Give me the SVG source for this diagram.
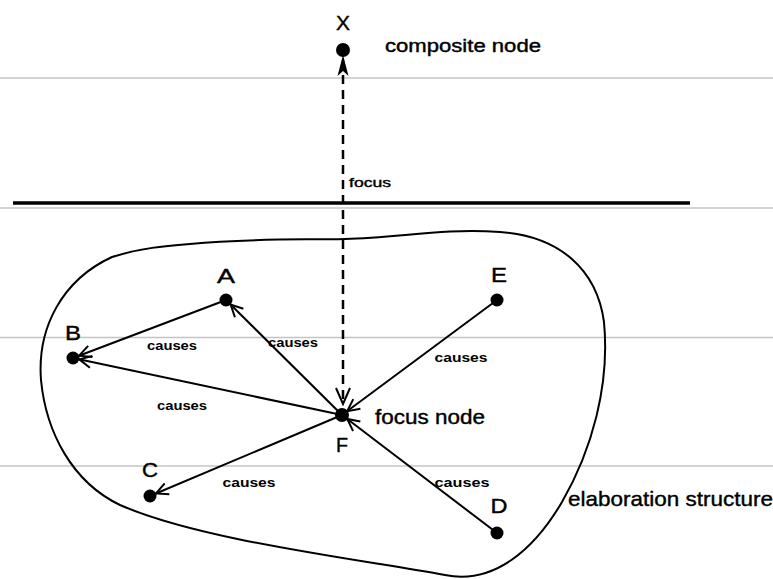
<svg xmlns="http://www.w3.org/2000/svg" width="773" height="579" viewBox="0 0 773 579">
  <style>
    .rule { stroke: #c4c4c4; stroke-width: 1.5; }
    .edge { stroke: #000; stroke-width: 2; fill: none; marker-end: url(#open); }
    .dot { fill: #000; }
    .lbl { font-family: "Liberation Sans", Arial, sans-serif; fill: #000; text-anchor: middle; }
    .node-name { font-size: 21px; stroke: #000; stroke-width: 0.4; }
    .causes { font-size: 12px; font-weight: bold; }
    .note { font-family: "Liberation Sans", Arial, sans-serif; fill: #000; stroke: #000; stroke-width: 0.4; }
  </style>
  <defs>
    <marker id="open" viewBox="0 0 12 12" markerWidth="12" markerHeight="12" markerUnits="userSpaceOnUse" refX="18.5" refY="6" orient="auto" overflow="visible">
      <path d="M0,0 L12,6 L0,12" fill="none" stroke="#000" stroke-width="2"/>
    </marker>
  </defs>
  <rect width="773" height="579" fill="#fff"/>

  <!-- ruled background lines -->
  <g id="rules">
    <line class="rule" x1="0" y1="78" x2="773" y2="78"/>
    <line class="rule" x1="0" y1="208" x2="773" y2="208"/>
    <line class="rule" x1="0" y1="337.5" x2="773" y2="337.5"/>
    <line class="rule" x1="0" y1="466" x2="773" y2="466"/>
  </g>

  <!-- level divider -->
  <line id="divider" x1="13" y1="203" x2="690" y2="203" stroke="#000" stroke-width="3.5"/>

  <!-- elaboration structure outline -->
  <g id="elaboration-structure">
    <path d="M 190,244 C 250,238 300,240 345,239 C 400,238 440,228 500,232 C 560,236 597,270 604,322 C 610,385 592,450 562,502 C 535,548 495,585 445,575 C 350,558 200,540 120,505 C 72,482 46,432 41,380 C 37,328 62,280 112,257 C 140,248 165,246 190,244 Z" fill="none" stroke="#000" stroke-width="2"/>
    <text class="note" x="568" y="506" font-size="21" textLength="205" lengthAdjust="spacingAndGlyphs">elaboration structure</text>
  </g>

  <!-- connectors -->
  <g id="connectors">
    <line class="edge" x1="226" y1="300" x2="73" y2="358"/>
    <line class="edge" x1="342" y1="415" x2="73" y2="358"/>
    <line class="edge" x1="342" y1="415" x2="226" y2="300"/>
    <line class="edge" x1="497" y1="300" x2="342" y2="415"/>
    <line class="edge" x1="497" y1="533" x2="342" y2="415"/>
    <line class="edge" x1="342" y1="415" x2="150" y2="496"/>
    <!-- focus link between composite node and focus node -->
    <line x1="343" y1="60" x2="343" y2="404" stroke="#000" stroke-width="2.5" stroke-dasharray="9 6"/>
    <path d="M336,388 L343,404 L350,388" fill="none" stroke="#000" stroke-width="2"/>
    <path d="M343,55 L337.5,76 L343,71 L348.5,76 Z" fill="#000"/>
    <text class="lbl causes" x="172" y="350" textLength="50" lengthAdjust="spacingAndGlyphs">causes</text>
    <text class="lbl causes" x="293" y="347" textLength="50" lengthAdjust="spacingAndGlyphs">causes</text>
    <text class="lbl causes" x="182" y="410" textLength="50" lengthAdjust="spacingAndGlyphs">causes</text>
    <text class="lbl causes" x="461" y="362" textLength="53" lengthAdjust="spacingAndGlyphs">causes</text>
    <text class="lbl causes" x="249" y="487" textLength="53" lengthAdjust="spacingAndGlyphs">causes</text>
    <text class="lbl causes" x="462" y="487" textLength="55" lengthAdjust="spacingAndGlyphs">causes</text>
    <text class="note" x="349" y="187" font-size="13" textLength="42" lengthAdjust="spacingAndGlyphs">focus</text>
  </g>

  <!-- nodes -->
  <g id="node-X">
    <circle class="dot" cx="343" cy="50" r="7"/>
    <text class="lbl node-name" x="343" y="30" textLength="14" lengthAdjust="spacingAndGlyphs">X</text>
    <text class="note" x="385" y="52" font-size="18" textLength="156" lengthAdjust="spacingAndGlyphs">composite node</text>
  </g>
  <g id="node-A">
    <circle class="dot" cx="226" cy="300" r="6.5"/>
    <text class="lbl node-name" x="226" y="283" textLength="18" lengthAdjust="spacingAndGlyphs">A</text>
  </g>
  <g id="node-B">
    <circle class="dot" cx="73" cy="358" r="6.5"/>
    <text class="lbl node-name" x="73" y="340" textLength="16" lengthAdjust="spacingAndGlyphs">B</text>
  </g>
  <g id="node-C">
    <circle class="dot" cx="150" cy="496" r="6.5"/>
    <text class="lbl node-name" x="150" y="477" textLength="16" lengthAdjust="spacingAndGlyphs">C</text>
  </g>
  <g id="node-D">
    <circle class="dot" cx="497" cy="533" r="6.5"/>
    <text class="lbl node-name" x="499" y="513" textLength="17" lengthAdjust="spacingAndGlyphs">D</text>
  </g>
  <g id="node-E">
    <circle class="dot" cx="497" cy="300" r="6.5"/>
    <text class="lbl node-name" x="499" y="282" textLength="16" lengthAdjust="spacingAndGlyphs">E</text>
  </g>
  <g id="node-F">
    <circle class="dot" cx="342" cy="415" r="7"/>
    <text class="lbl node-name" x="342" y="452" textLength="12" lengthAdjust="spacingAndGlyphs">F</text>
    <text class="note" x="375" y="424" font-size="20" textLength="110" lengthAdjust="spacingAndGlyphs">focus node</text>
  </g>
</svg>
